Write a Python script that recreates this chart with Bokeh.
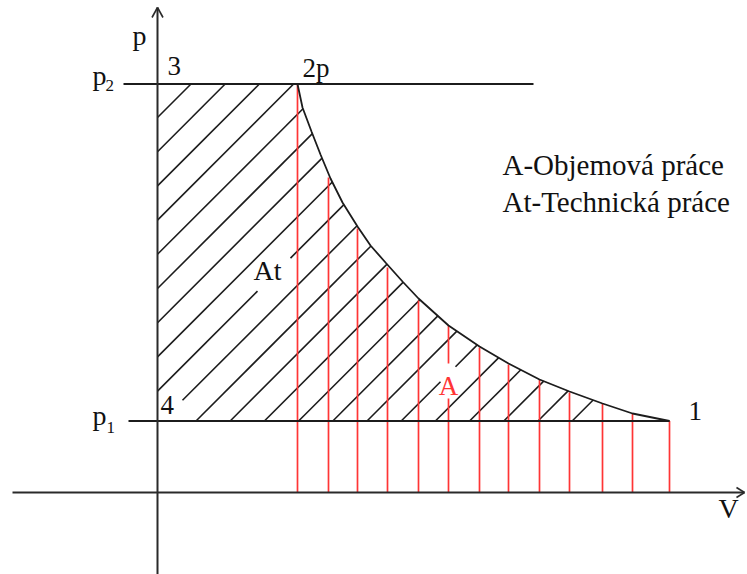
import numpy as np
from bokeh.plotting import figure
from bokeh.models import Range1d
from bokeh.core.properties import value
from bokeh.embed import file_html
from bokeh.resources import INLINE

# ---------------- data (pixel-like units) ----------------
p1, p2 = 71.5, 408.5              # pressure levels
V2, V1 = 140.0, 512.0             # volumes of states 2p and 1
# expansion curve 2p -> 1
curve_V = [140, 145, 154, 163, 173, 185, 200, 213, 228, 245, 261, 291, 322, 351, 382, 412, 445, 475, 512]
curve_p = [408.5, 385, 361, 338, 314, 290, 266, 247, 230, 211, 194, 167, 146, 129, 113, 101, 89, 79, 71.5]
# red verticals (volume work A)
red_V   = [140, 171, 200, 230, 261, 291, 322, 351, 382, 412, 445, 475, 512]
red_top = [408.5, 315, 264, 225, 192, 167, 145, 128, 113, 100, 89, 79, 71.5]
legend_lines = ["A-Objemová práce", "At-Technická práce"]
point_labels = ["3", "2p", "4", "1"]

# ---------------- figure ----------------
W, H = 747, 574
p = figure(width=W, height=H, x_range=Range1d(-157, 590), y_range=Range1d(-82, 492),
           x_axis_type=None, y_axis_type=None, toolbar_location=None,
           output_backend="svg", min_border=0, outline_line_color=None,
           background_fill_color="white", border_fill_color="white")

BLK = "#1c1c1c"
RED = "#ff3535"
FONT = value("Times New Roman")

# ---------------- hatching (45 deg lines clipped to the At region) ----------------
hatch_offset, hatch_step, n_hatch = 375.0, 34.2, 22
Vg = np.linspace(curve_V[0], curve_V[-1], 6000)
pg = np.interp(Vg, curve_V, curve_p)

def curve_hit(d):
    g = pg - (Vg + d)
    idx = int(np.argmax(g <= 0))
    return Vg[idx]

# gaps around labels: (line index, V from, V to)
gaps = {8: (100, 133), 9: (-1e9, 25), 16: (283, 298)}

hx0, hy0, hx1, hy1 = [], [], [], []
for k in range(n_hatch):
    d = hatch_offset - hatch_step * k
    vs = max(0.0, p1 - d)
    ve_top = p2 - d
    ve = ve_top if ve_top <= V2 else curve_hit(d)
    pieces = [(vs, ve)]
    if k in gaps:
        a, b = gaps[k]
        pieces = []
        if a > vs:
            pieces.append((vs, min(a, ve)))
        if b < ve:
            pieces.append((max(b, vs), ve))
    for a, b in pieces:
        hx0.append(a); hy0.append(a + d); hx1.append(b); hy1.append(b + d)

p.segment(x0=hx0, y0=hy0, x1=hx1, y1=hy1, line_color=BLK, line_width=1.6)

# ---------------- red verticals ----------------
rx0, ry0, rx1, ry1 = [], [], [], []
red_gap = (94, 129)  # gap for label "A" on the line at V=291
for v, t in zip(red_V, red_top):
    if v == 291:
        rx0 += [v, v]; ry0 += [0, red_gap[1]]; rx1 += [v, v]; ry1 += [red_gap[0], t]
    else:
        rx0.append(v); ry0.append(0); rx1.append(v); ry1.append(t)
p.segment(x0=rx0, y0=ry0, x1=rx1, y1=ry1, line_color=RED, line_width=1.7)

# ---------------- curve and pressure lines ----------------
p.line(curve_V, curve_p, line_color=BLK, line_width=1.8)
p.segment(x0=[-34, -29], y0=[p2, p1], x1=[376, V1], y1=[p2, p1], line_color=BLK, line_width=1.8)

# ---------------- axes with arrows ----------------
AX = "#2a2a2a"
v_tip, h_tip = 485, 587
p.segment(x0=[0, -145], y0=[-90, 0], x1=[0, h_tip], y1=[v_tip, 0], line_color=AX, line_width=2)
p.segment(x0=[0, 0, h_tip, h_tip], y0=[v_tip, v_tip, 0, 0],
          x1=[-5.5, 5.5, h_tip - 8, h_tip - 8], y1=[v_tip - 10, v_tip - 10, 5, -5],
          line_color=AX, line_width=1.6)

# ---------------- texts ----------------
def txt(x, y, s, size, color="#111111", align="left"):
    # the svg text sits ~0.35 em lower than the alphabetic baseline given; compensate
    p.text(x=[x], y=[y + 0.35 * size], text=[s], text_font=FONT, text_font_size=f"{size}px",
           text_color=color, text_baseline="alphabetic", text_align=align)

txt(-25, 447, "p", 28)
txt(561, -26, "V", 28)
txt(-65, 407, "p", 28); txt(-52, 401, "2", 17)
txt(-65, 67, "p", 28); txt(-51, 59, "1", 17)
txt(10, 417, point_labels[0], 27)
txt(145, 415, point_labels[1], 27)
txt(3, 78, point_labels[2], 27)
txt(531, 72, point_labels[3], 27)
txt(96, 212, "At", 28)
txt(291, 97, "A", 27, color=RED, align="center")
txt(345, 317, legend_lines[0], 29)
txt(345, 280, legend_lines[1], 29)

open("out.html", "w").write(file_html(p, INLINE))
